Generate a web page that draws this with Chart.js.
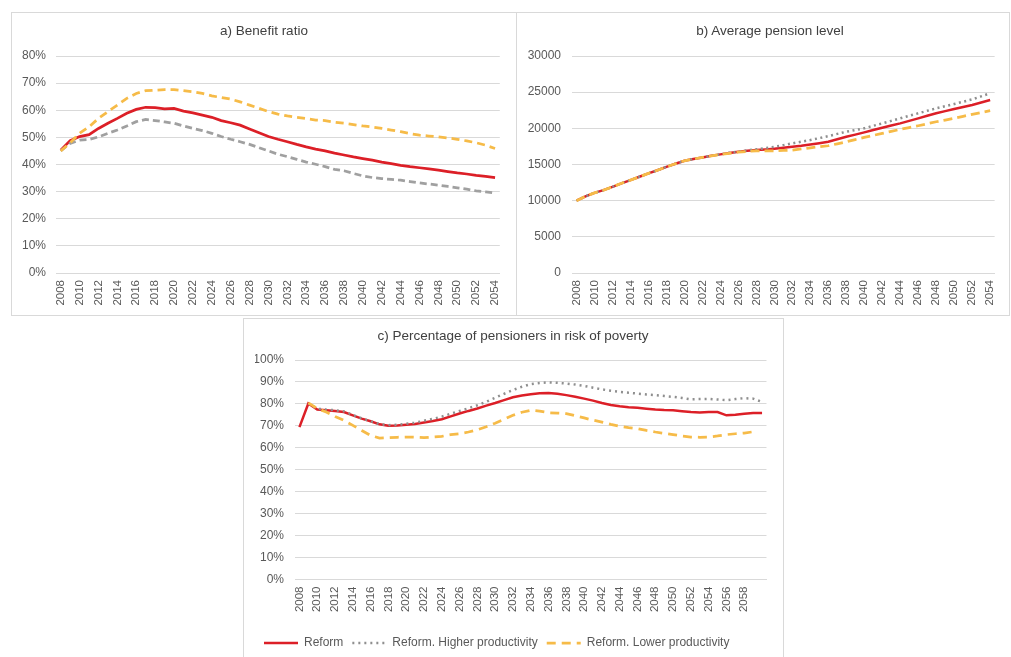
<!DOCTYPE html>
<html><head><meta charset="utf-8">
<script src="https://cdn.jsdelivr.net/npm/chart.js@4.4.1/dist/chart.umd.min.js"></script>
<style>
html,body{margin:0;padding:0;background:#fff;}
body{width:1011px;height:657px;overflow:hidden;position:relative;font-family:'Liberation Sans',Arial,sans-serif;}
.box{position:absolute;border:1px solid #d9d9d9;box-sizing:border-box;background:#fff;}
canvas{position:absolute;}
.title{position:absolute;font-size:13.5px;color:#404040;text-align:center;line-height:16px;white-space:nowrap;}
</style></head><body>
<div class="box" style="left:11px;top:12px;width:506px;height:304px"></div>
<div class="box" style="left:516px;top:12px;width:494px;height:304px"></div>
<div class="box" style="left:243px;top:318px;width:541px;height:360px"></div>
<canvas id="ca" width="505" height="303" style="left:11px;top:12px"></canvas>
<canvas id="cb" width="495" height="303" style="left:516px;top:12px"></canvas>
<canvas id="cc" width="540" height="341" style="left:243px;top:318px"></canvas>
<div class="title" style="left:14px;width:500px;top:23px">a) Benefit ratio</div>
<div class="title" style="left:520px;width:500px;top:23px">b) Average pension level</div>
<div class="title" style="left:263px;width:500px;top:328px">c) Percentage of pensioners in risk of poverty</div>
<script>
// ---- categories ----
const yearsAB = ['2008','2009','2010','2011','2012','2013','2014','2015','2016','2017','2018','2019','2020','2021','2022','2023','2024','2025','2026','2027','2028','2029','2030','2031','2032','2033','2034','2035','2036','2037','2038','2039','2040','2041','2042','2043','2044','2045','2046','2047','2048','2049','2050','2051','2052','2053','2054'];
const yearsC = ['2008','2009','2010','2011','2012','2013','2014','2015','2016','2017','2018','2019','2020','2021','2022','2023','2024','2025','2026','2027','2028','2029','2030','2031','2032','2033','2034','2035','2036','2037','2038','2039','2040','2041','2042','2043','2044','2045','2046','2047','2048','2049','2050','2051','2052','2053','2054','2055','2056','2057','2058','2059','2060'];
const seriesNames = ['Reform','Reform. Higher productivity','Reform. Lower productivity'];

// ---- a) Benefit ratio (%) ----
const ratioReform = [45.3,48.8,50.3,51.0,53.3,55.2,57.0,58.9,60.3,61.1,61.0,60.5,60.7,59.7,59.0,58.2,57.4,56.2,55.4,54.5,53.1,51.7,50.3,49.3,48.4,47.4,46.5,45.7,45.0,44.2,43.5,42.8,42.2,41.6,40.9,40.3,39.7,39.2,38.8,38.4,37.9,37.4,36.9,36.5,36.0,35.6,35.2];
const ratioHigher = [45.0,47.8,49.0,49.2,50.2,51.5,52.7,54.2,55.8,56.6,56.2,55.7,55.2,54.2,53.3,52.5,51.5,50.3,49.3,48.4,47.4,46.2,45.0,43.8,42.9,41.9,40.9,40.1,39.2,38.2,37.7,36.7,35.8,35.2,34.8,34.5,34.2,33.7,33.2,32.8,32.4,31.9,31.4,30.9,30.3,29.9,29.5];
const ratioLower = [45.0,48.0,51.5,53.9,57.0,59.5,61.9,64.4,66.2,67.2,67.4,67.6,67.6,67.2,66.8,66.2,65.3,64.7,64.1,63.1,61.9,60.7,59.5,58.6,57.9,57.4,56.9,56.4,56.2,55.6,55.2,54.7,54.2,53.8,53.3,52.7,52.1,51.4,50.8,50.5,50.2,49.8,49.3,48.7,48.0,47.1,45.9];

// ---- b) Average pension level ----
const pensionReform = [10000,10600,11080,11450,11910,12400,12840,13300,13770,14200,14680,15100,15510,15750,15980,16200,16400,16600,16760,16900,16990,17080,17170,17300,17450,17600,17780,17950,18140,18480,18840,19130,19440,19760,20080,20380,20690,21030,21380,21730,22080,22380,22670,22950,23230,23570,23920];
const pensionHigher = [10000,10600,11080,11450,11910,12400,12840,13300,13770,14200,14680,15100,15510,15750,15980,16200,16400,16620,16800,16950,17100,17270,17450,17680,17920,18150,18380,18650,18930,19230,19530,19760,20000,20350,20690,21030,21380,21730,22080,22420,22770,23060,23360,23680,24010,24420,24850];
const pensionLower = [10000,10600,11080,11450,11910,12400,12840,13300,13770,14200,14680,15100,15510,15750,15980,16200,16400,16550,16700,16820,16900,16900,16900,16950,16990,17150,17310,17450,17590,17860,18140,18450,18750,19020,19300,19580,19860,20110,20360,20630,20910,21140,21380,21660,21940,22190,22440];

// ---- c) Percentage of pensioners in risk of poverty (%) ----
const povertyReform = [69.4,80.2,77.4,77.1,76.8,76.3,74.8,73.3,72.1,70.7,70.1,70.2,70.5,70.8,71.5,72.2,73.0,74.3,75.6,76.8,77.9,79.2,80.4,81.7,83.0,83.8,84.4,84.8,85.0,84.6,84.0,83.3,82.4,81.5,80.4,79.5,78.9,78.5,78.2,77.8,77.4,77.2,77.1,76.7,76.3,76.1,76.3,76.3,74.8,75.1,75.5,75.9,75.9];
const povertyHigher = [null,80.2,77.8,77.4,77.1,76.6,75.0,73.4,72.1,70.8,70.3,70.5,70.9,71.4,72.3,73.2,74.2,75.5,76.8,78.0,79.4,81.0,82.8,84.6,86.3,87.8,89.0,89.5,89.8,89.6,89.3,88.8,88.2,87.4,86.6,86.0,85.5,85.1,84.7,84.3,84.0,83.6,83.2,82.7,82.1,82.2,82.3,82.0,81.7,82.2,82.6,82.4,80.9];
const povertyLower = [null,80.5,77.9,76.3,74.3,72.5,70.2,67.9,65.6,64.4,64.6,64.8,64.9,64.8,64.6,64.9,65.2,66.0,66.4,67.2,68.2,69.6,71.2,73.0,74.8,76.2,77.1,76.7,76.0,75.8,75.6,74.6,73.6,72.6,71.7,70.7,69.8,69.2,68.7,67.9,67.2,66.6,66.0,65.4,64.9,64.8,64.9,65.4,66.0,66.4,66.7,67.3,null];

const RED = '#dc1f27', GOLD = '#f6bb48', GREY = '#a0a0a0', GREYDOT = '#8f8f8f';
Chart.defaults.font.family = "'Liberation Sans', Arial, sans-serif";
Chart.defaults.color = '#595959';

function ds(label, data, color, dash, width, order) {
  return {label, data, borderColor: color, backgroundColor: color, borderDash: dash, borderWidth: width,
    pointRadius: 0, pointHoverRadius: 0, tension: 0, fill: false, spanGaps: false, order};
}
function opts(c) {
  return {
    responsive: false, animation: false, devicePixelRatio: 1,
    layout: {padding: c.pad},
    plugins: {legend: c.legend || {display: false}, tooltip: {enabled: false}, title: {display: false}},
    scales: {
      x: {type: 'category', offset: true,
        grid: {drawOnChartArea: false, drawTicks: false},
        border: {display: true, color: '#d9d9d9', width: 1},
        ticks: {autoSkip: false, minRotation: 90, maxRotation: 90, padding: 7, color: '#595959', font: {size: 11.5},
          callback: function (v, i) { const l = this.getLabelForValue(v); return (i % 2 === 0 && c.showTick(l)) ? l : ''; }},
        afterFit: s => { s.height = c.xh; }},
      y: {min: 0, max: c.max,
        ticks: {stepSize: c.step, padding: c.ypad, color: '#595959', font: {size: 12}, callback: c.fmt},
        grid: {color: '#d9d9d9', drawTicks: false, lineWidth: 1},
        border: {display: false},
        afterFit: s => { s.width = c.yw; }}
    }
  };
}
const pct = v => v + '%';
const all = () => true;

new Chart(document.getElementById('ca'), {
  type: 'line',
  data: {labels: yearsAB, datasets: [
    ds(seriesNames[0], ratioReform, RED, [], 2.75, 3),
    ds(seriesNames[1], ratioHigher, GREY, [7, 4], 2.75, 2),
    ds(seriesNames[2], ratioLower, GOLD, [8, 5], 2.75, 1)]},
  options: opts({pad: {left: 0, right: 13, top: 44, bottom: 0}, xh: 42, yw: 45, ypad: 10, max: 80, step: 10, fmt: pct, showTick: all})
});

new Chart(document.getElementById('cb'), {
  type: 'line',
  data: {labels: yearsAB, datasets: [
    ds(seriesNames[0], pensionReform, RED, [], 2.5, 3),
    ds(seriesNames[1], pensionHigher, GREYDOT, [2, 3.5], 2.5, 2),
    ds(seriesNames[2], pensionLower, GOLD, [9, 5], 2.75, 1)]},
  options: opts({pad: {left: 0, right: 4, top: 44, bottom: 0}, xh: 42, yw: 56, ypad: 11, max: 30000, step: 5000, fmt: v => String(v), showTick: all})
});

new Chart(document.getElementById('cc'), {
  type: 'line',
  data: {labels: yearsC, datasets: [
    ds(seriesNames[0], povertyReform, RED, [], 2.5, 3),
    ds(seriesNames[1], povertyHigher, GREYDOT, [2, 4], 2.5, 2),
    ds(seriesNames[2], povertyLower, GOLD, [9, 6], 2.75, 1)]},
  options: opts({pad: {left: 12, right: 16, top: 42, bottom: 0}, xh: 48.5, yw: 40, ypad: 11, max: 100, step: 10, fmt: pct,
    showTick: l => l !== '2060',
    legend: {display: true, position: 'bottom', align: 'start',
      labels: {usePointStyle: true, pointStyle: 'line', pointStyleWidth: 34, padding: 9, color: '#595959', font: {size: 12},
        generateLabels: chart => chart.data.datasets.map((d, i) => ({
          text: d.label, strokeStyle: d.borderColor, fillStyle: d.borderColor, lineWidth: d.borderWidth,
          lineDash: d.borderDash, lineCap: 'butt', pointStyle: 'line', datasetIndex: i, hidden: false, fontColor: '#595959'}))}}})
});
</script>
</body></html>
